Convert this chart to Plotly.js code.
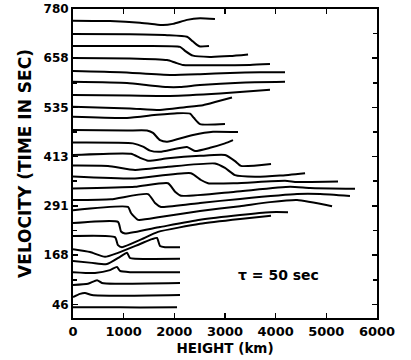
<!DOCTYPE html>
<html>
<head>
<meta charset="utf-8">
<script src="https://cdn.plot.ly/plotly-3.0.1.min.js"></script>
<style>
  html, body { margin: 0; padding: 0; background: #fff; }
  #chart { width: 411px; height: 360px; }
</style>
</head>
<body>
<div id="chart"></div>
<script>
// Axis ticks
const yTickVals = [46, 168, 291, 413, 535, 658, 780];
const yTickText = ["46", "168", "291", "413", "535", "658", "780"];
const xTickVals = [0, 1000, 2000, 3000, 4000, 5000, 6000];

// Profiles: height (km) and velocity/time (sec) for each curve, top to bottom
const h01 = [0, 730, 1323, 1559, 1776, 1974, 2250, 2507, 2802];
const v01 = [751, 750, 746, 743, 740, 743, 753, 757, 755];
const h02 = [0, 1125, 1856, 2250, 2369, 2447, 2507, 2684];
const v02 = [718, 717, 715, 711, 699, 691, 687, 688];
const h03 = [0, 1125, 2112, 2211, 2369, 2704, 3099, 3455];
const v03 = [688, 688, 686, 676, 664, 661, 663, 667];
const h04 = [0, 1125, 1856, 2014, 2171, 2901, 3494, 3888];
const v04 = [658, 657, 653, 647, 641, 640, 641, 643];
const h05 = [0, 928, 1915, 2507, 3099, 3691, 4185];
const v05 = [626, 623, 616, 618, 621, 623, 623];
const h06 = [0, 1066, 1520, 1856, 2112, 2507, 3297, 4185];
const v06 = [599, 596, 590, 586, 586, 591, 597, 599];
const h07 = [0, 1125, 1915, 2901, 3888];
const v07 = [566, 565, 564, 570, 579];
const h08 = [0, 1125, 1717, 2211, 2566, 2842, 3138];
const v08 = [537, 533, 529, 536, 541, 550, 560];
const h09 = [0, 1066, 1658, 2053, 2310, 2388, 2507, 3000];
const v09 = [512, 509, 517, 521, 520, 509, 494, 494];
const h10 = [0, 1066, 1461, 1579, 1717, 1856, 2369, 2763, 3257];
const v10 = [479, 478, 478, 472, 454, 450, 467, 475, 474];
const h11 = [0, 1184, 1382, 1520, 1717, 2250, 2408, 2704, 3000, 3158];
const v11 = [448, 446, 438, 428, 425, 437, 427, 435, 446, 454];
const h12 = [0, 1145, 1323, 1481, 1875, 2507, 3000, 3198, 3316, 3908];
const v12 = [417, 420, 410, 403, 409, 415, 417, 402, 390, 395];
const h13 = [0, 691, 1224, 1875, 2802, 3000, 3198, 3593, 4086, 4580];
const v13 = [391, 390, 380, 388, 396, 385, 367, 363, 366, 372];
const h14 = [0, 1224, 2329, 2526, 2665, 3198, 4185, 4422, 5231];
const v14 = [364, 359, 372, 355, 347, 347, 353, 350, 351];
const h15 = [0, 1224, 1875, 2014, 2132, 3198, 4284, 4678, 5566];
const v15 = [334, 338, 347, 326, 316, 326, 338, 335, 333];
const h16 = [0, 750, 1481, 1619, 1737, 2507, 3297, 4422, 4876, 5467];
const v16 = [305, 307, 320, 298, 288, 298, 308, 320, 320, 315];
const h17 = [0, 1086, 1145, 1283, 1717, 2507, 3297, 3888, 4422, 5113];
const v17 = [280, 288, 273, 256, 263, 278, 290, 300, 305, 290];
const h18 = [0, 888, 948, 1026, 1717, 2507, 3297, 3888, 4244];
const v18 = [248, 251, 227, 222, 238, 256, 268, 275, 275];
const h19 = [0, 829, 888, 967, 1323, 1678, 2507, 3297, 3908];
const v19 = [216, 213, 193, 188, 206, 226, 246, 258, 266];
const h20 = [0, 336, 632, 888, 1323, 1559, 1658, 1717, 1816, 2112];
const v20 = [183, 176, 164, 174, 196, 208, 211, 191, 188, 188];
const h21 = [0, 375, 671, 928, 1066, 1125, 1224, 2112];
const v21 = [154, 149, 146, 164, 174, 161, 159, 159];
const h22 = [0, 434, 730, 869, 928, 1125, 2112];
const v22 = [126, 124, 131, 139, 129, 126, 126];
const h23 = [0, 296, 474, 572, 829, 2112];
const v23 = [94, 97, 106, 99, 97, 99];
const h24 = [0, 138, 237, 375, 928, 2112];
const v24 = [64, 72, 74, 69, 67, 69];
const h25 = [0, 533, 1323, 2053];
const v25 = [39, 39, 38, 39];

const annotationText = "τ = 50 sec";
const annotationX = 4050;
const annotationY = 119;

const profiles = [
  [h01, v01], [h02, v02], [h03, v03], [h04, v04], [h05, v05],
  [h06, v06], [h07, v07], [h08, v08], [h09, v09], [h10, v10],
  [h11, v11], [h12, v12], [h13, v13], [h14, v14], [h15, v15],
  [h16, v16], [h17, v17], [h18, v18], [h19, v19], [h20, v20],
  [h21, v21], [h22, v22], [h23, v23], [h24, v24], [h25, v25]
];

const traces = profiles.map(function (p) {
  return {
    x: p[0], y: p[1], type: 'scatter', mode: 'lines',
    line: { color: '#000', width: 2, shape: 'spline', smoothing: 0.5 },
    hoverinfo: 'skip', showlegend: false
  };
});

const yMinor = [];
for (let i = 0; i < yTickVals.length - 1; i++) {
  yMinor.push((yTickVals[i] + yTickVals[i + 1]) / 2);
}

const tickFont = { family: 'DejaVu Sans, sans-serif', size: 12, color: '#000', weight: 'bold' };

const layout = {
  width: 411, height: 360,
  margin: { l: 73, r: 34, t: 9, b: 42, pad: 0 },
  paper_bgcolor: '#fff', plot_bgcolor: '#fff',
  showlegend: false,
  xaxis: {
    range: [0, 6000], tickmode: 'array', tickvals: xTickVals,
    ticks: 'inside', ticklen: 5, tickwidth: 1.5, tickcolor: '#000',
    showline: true, linewidth: 2, linecolor: '#000', mirror: 'ticks',
    showgrid: false, zeroline: false,
    tickfont: { family: 'DejaVu Sans, sans-serif', size: 13, color: '#000', weight: 'bold' },
    title: { text: 'HEIGHT (km)', standoff: 6,
      font: { family: 'DejaVu Sans, sans-serif', size: 13.5, color: '#000', weight: 'bold' } }
  },
  yaxis: {
    range: [12, 780], tickmode: 'array', tickvals: yTickVals, ticktext: yTickText,
    ticks: 'inside', ticklen: 5, tickwidth: 1.5, tickcolor: '#000',
    minor: { tickmode: 'array', tickvals: yMinor, ticks: 'inside', ticklen: 4, tickwidth: 1.5, tickcolor: '#000', showgrid: false },
    showline: true, linewidth: 2, linecolor: '#000', mirror: 'ticks',
    showgrid: false, zeroline: false,
    tickfont: tickFont,
    title: { text: 'VELOCITY (TIME IN SEC)', standoff: 8,
      font: { family: 'DejaVu Sans, sans-serif', size: 17, color: '#000', weight: 'bold' } }
  },
  annotations: [{
    x: annotationX, y: annotationY, xref: 'x', yref: 'y',
    text: annotationText, showarrow: false,
    font: { family: 'DejaVu Sans, sans-serif', size: 14, color: '#000', weight: 'bold' }
  }]
};

Plotly.newPlot('chart', traces, layout, { displayModeBar: false, staticPlot: true });
</script>
</body>
</html>
